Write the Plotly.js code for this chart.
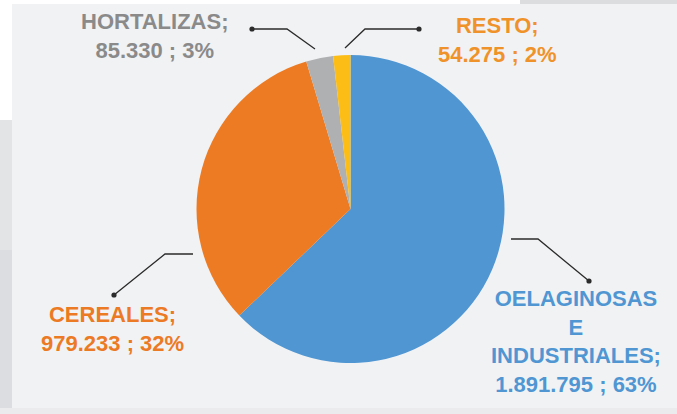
<!DOCTYPE html>
<html>
<head>
<meta charset="utf-8">
<script src="https://cdn.plot.ly/plotly-3.0.1.min.js"></script>
<style>html,body{margin:0;padding:0;background:#fff;}#chart{width:677px;height:414px;}</style>
</head>
<body>
<div id="chart"></div>
<script>
const categories = ["OELAGINOSAS E INDUSTRIALES", "CEREALES", "HORTALIZAS", "RESTO"];
const values = [1891795, 979233, 85330, 54275];
const valueLabels = ["1.891.795", "979.233", "85.330", "54.275"];
const percentLabels = ["63%", "32%", "3%", "2%"];
const labelNames = ["OELAGINOSAS<br>E<br>INDUSTRIALES;", "CEREALES;", "HORTALIZAS;", "RESTO;"];

const sliceColors = ["#4f96d2", "#ec7b23", "#afb0b2", "#fbbd16"];
const textColors = ["#4f96d3", "#ec7a24", "#8a8a8a", "#f0922a"];
const labelPos = [[576, 341], [112, 329], [154, 36], [497, 40]];
const leaders = [
  [[511, 239], [538, 239], [589, 281]],
  [[193, 254], [165, 254], [114, 295]],
  [[315, 49], [287, 29], [252, 29]],
  [[345, 48], [365, 29], [419, 29]]
];

const shapes = [
  {type: 'rect', xref: 'x', yref: 'y', x0: 0, x1: 12, y0: 120, y1: 414, fillcolor: '#e3e4e6', line: {width: 0}, layer: 'below'},
  {type: 'rect', xref: 'x', yref: 'y', x0: 0, x1: 12, y0: 250, y1: 414, fillcolor: '#dcdde0', line: {width: 0}, layer: 'below'},
  {type: 'rect', xref: 'x', yref: 'y', x0: 520, x1: 677, y0: 0, y1: 5, fillcolor: '#dcdddf', line: {width: 0}, layer: 'below'},
  {type: 'rect', xref: 'x', yref: 'y', x0: 0, x1: 677, y0: 408, y1: 414, fillcolor: '#ebebed', line: {width: 0}, layer: 'below'},
  {type: 'rect', xref: 'x', yref: 'y', x0: 12, x1: 677, y0: 4, y1: 408, fillcolor: '#f1f2f4', line: {width: 0}, layer: 'below'}
];
leaders.forEach(pts => {
  let path = 'M' + pts.map(p => p[0] + ',' + p[1]).join(' L');
  shapes.push({type: 'path', xref: 'x', yref: 'y', path: path, line: {color: '#2b2b2b', width: 1.3}});
  const e = pts[pts.length - 1];
  shapes.push({type: 'circle', xref: 'x', yref: 'y', x0: e[0] - 2.6, x1: e[0] + 2.6, y0: e[1] - 2.6, y1: e[1] + 2.6, fillcolor: '#2b2b2b', line: {width: 0}});
});

const annotations = categories.map((c, i) => ({
  xref: 'x', yref: 'y', x: labelPos[i][0], y: labelPos[i][1],
  text: labelNames[i] + '<br>' + valueLabels[i] + ' ; ' + percentLabels[i],
  showarrow: false, align: 'center', xanchor: 'center', yanchor: 'middle',
  font: {family: 'Liberation Sans, Arial, sans-serif', size: 22, color: textColors[i], weight: 'bold'}
}));

const trace = {
  type: 'pie', labels: categories, values: values, sort: false, direction: 'clockwise', rotation: 0,
  marker: {colors: sliceColors, line: {width: 0}},
  textinfo: 'none', hoverinfo: 'none', showlegend: false,
  domain: {x: [196.5 / 677, 504.5 / 677], y: [1 - 363 / 414, 1 - 55 / 414]}
};

const layout = {
  width: 677, height: 414, margin: {l: 0, r: 0, t: 0, b: 0},
  paper_bgcolor: '#ffffff', plot_bgcolor: 'rgba(0,0,0,0)',
  xaxis: {range: [0, 677], visible: false, fixedrange: true},
  yaxis: {range: [414, 0], visible: false, fixedrange: true},
  shapes: shapes, annotations: annotations, showlegend: false
};

Plotly.newPlot('chart', [trace], layout, {staticPlot: true, displayModeBar: false});
</script>
</body>
</html>
